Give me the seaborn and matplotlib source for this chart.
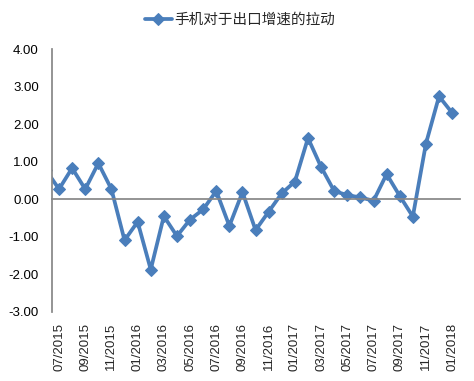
import numpy as np
import pandas as pd
import matplotlib as mpl
import matplotlib.pyplot as plt
import seaborn as sns

# ── Data ─────────────────────────────────────────────────────────────────────
MONTHS = pd.date_range("2015-06-01", periods=32, freq="MS")
VALUES = [0.78, 0.27, 0.83, 0.27, 0.96, 0.27, -1.09, -0.60, -1.87, -0.45,
          -0.98, -0.54, -0.27, 0.22, -0.71, 0.19, -0.82, -0.33, 0.16, 0.47,
          1.63, 0.86, 0.22, 0.11, 0.05, -0.04, 0.67, 0.09, -0.46, 1.48,
          2.74, 2.30]
SERIES_NAME = "手机对于出口增速的拉动"
Y_TICKS = [-3, -2, -1, 0, 1, 2, 3, 4]

# ── Style ────────────────────────────────────────────────────────────────────
sns.set_theme(style="white")
mpl.rcParams["font.family"] = ["Liberation Sans", "Noto Sans CJK SC", "DejaVu Sans"]
mpl.rcParams["axes.unicode_minus"] = False

LINE_COL = "#4A7EBB"
AXIS_COL = "#868686"

df = pd.DataFrame({"idx": np.arange(len(VALUES)) - 1, "value": VALUES})
labels = [m.strftime("%m/%Y") for m in MONTHS]

fig = plt.figure(figsize=(4.74, 3.81), dpi=100)
ax = fig.add_axes([52 / 474, 1 - 312 / 381, (460 - 52) / 474, (312 - 49) / 381])

sns.lineplot(data=df, x="idx", y="value", ax=ax, color=LINE_COL, lw=2.7,
             marker="D", markersize=6, markeredgecolor=LINE_COL,
             label=SERIES_NAME, legend=False)

ax.set_xlim(-0.535, 30.6)
ax.set_ylim(-3, 4)
ax.set_yticks(Y_TICKS)
ax.set_yticklabels([f"{v:.2f}" for v in Y_TICKS], fontsize=9.5)
ax.set_xlabel("")
ax.set_ylabel("")

for s in ["top", "right"]:
    ax.spines[s].set_visible(False)
ax.spines["left"].set_color(AXIS_COL)
ax.spines["bottom"].set_color(AXIS_COL)
ax.spines["bottom"].set_position(("data", 0))

# tick marks on the zero line, between the month labels
ax.set_xticks(np.arange(1.53, 30.6, 2))
ax.set_xticklabels([])
ax.tick_params(axis="x", direction="out", length=3.5, color=AXIS_COL, width=1)
ax.tick_params(axis="y", direction="out", length=3.5, color=AXIS_COL, width=1,
               pad=6, labelcolor="black")

# month labels along the bottom of the plot area
sec = ax.secondary_xaxis(0.0)
pos = np.arange(0, 31, 2)
sec.set_xticks(pos)
sec.set_xticklabels([labels[i + 1] for i in pos], rotation=90, fontsize=9.5)
sec.tick_params(length=0, pad=8)
sec.spines["bottom"].set_visible(False)

h, l = ax.get_legend_handles_labels()
fig.legend(h, l, loc="center", bbox_to_anchor=(240 / 474, 1 - 20 / 381),
           frameon=False, fontsize=10.5, handlelength=1.9, handletextpad=0.15)

fig.savefig("out.png", dpi=100)
